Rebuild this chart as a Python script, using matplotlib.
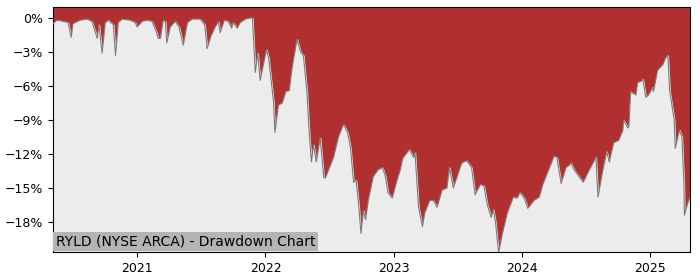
import numpy as np
import pandas as pd
import matplotlib
matplotlib.use('Agg')
import matplotlib.pyplot as plt
import matplotlib.dates as mdates
from matplotlib.ticker import FuncFormatter

# drawdown values (%)
dates = [
    '2020-05-06', '2020-05-17', '2020-06-04', '2020-06-18', '2020-06-27', '2020-07-02',
    '2020-07-22', '2020-08-11', '2020-08-25', '2020-09-09', '2020-09-14', '2020-09-23',
    '2020-10-02', '2020-10-11', '2020-10-25', '2020-10-31', '2020-11-08', '2020-11-19',
    '2020-12-12', '2020-12-26', '2021-01-01', '2021-01-15', '2021-01-29', '2021-02-12',
    '2021-02-24', '2021-03-02', '2021-03-08', '2021-03-16', '2021-03-22', '2021-03-26',
    '2021-04-05', '2021-04-19', '2021-04-30', '2021-05-12', '2021-05-24', '2021-06-07',
    '2021-06-29', '2021-07-12', '2021-07-19', '2021-07-30', '2021-08-11', '2021-08-20',
    '2021-08-25', '2021-09-06', '2021-09-17', '2021-09-27', '2021-10-01', '2021-10-13',
    '2021-10-21', '2021-11-05', '2021-11-19', '2021-11-25', '2021-12-03', '2021-12-10',
    '2021-12-17', '2022-01-04', '2022-01-10', '2022-01-24', '2022-01-28', '2022-02-07',
    '2022-02-18', '2022-02-28', '2022-03-10', '2022-03-18', '2022-04-01', '2022-04-11',
    '2022-04-19', '2022-04-29', '2022-05-06', '2022-05-12', '2022-05-18', '2022-05-26',
    '2022-06-06', '2022-06-16', '2022-06-21', '2022-07-14', '2022-07-28', '2022-08-11',
    '2022-08-23', '2022-08-31', '2022-09-09', '2022-09-16', '2022-09-23', '2022-09-30',
    '2022-10-07', '2022-10-13', '2022-10-21', '2022-11-04', '2022-11-18', '2022-11-30',
    '2022-12-08', '2022-12-16', '2022-12-28', '2023-01-11', '2023-01-20', '2023-01-27',
    '2023-02-15', '2023-02-27', '2023-03-03', '2023-03-13', '2023-03-24', '2023-03-31',
    '2023-04-14', '2023-04-24', '2023-05-05', '2023-05-19', '2023-06-02', '2023-06-09',
    '2023-06-20', '2023-06-30', '2023-07-14', '2023-07-28', '2023-08-11', '2023-08-21',
    '2023-09-05', '2023-09-15', '2023-09-25', '2023-10-06', '2023-10-12', '2023-10-18',
    '2023-10-27', '2023-11-07', '2023-11-21', '2023-12-08', '2023-12-19', '2023-12-27',
    '2024-01-08', '2024-01-18', '2024-02-05', '2024-02-20', '2024-03-01', '2024-03-15',
    '2024-04-02', '2024-04-10', '2024-04-22', '2024-05-06', '2024-05-15', '2024-05-20',
    '2024-05-29', '2024-06-12', '2024-06-24', '2024-07-08', '2024-07-22', '2024-07-30',
    '2024-08-05', '2024-08-19', '2024-08-30', '2024-09-06', '2024-09-19', '2024-10-03',
    '2024-10-15', '2024-10-17', '2024-10-29', '2024-11-01', '2024-11-06', '2024-11-21',
    '2024-11-26', '2024-12-05', '2024-12-11', '2024-12-19', '2024-12-27', '2025-01-08',
    '2025-01-10', '2025-01-22', '2025-02-06', '2025-02-14', '2025-02-20', '2025-02-25',
    '2025-03-10', '2025-03-13', '2025-03-25', '2025-04-01', '2025-04-07', '2025-04-08',
    '2025-04-18', '2025-04-24',
]
drawdown = [
    -0.5, -0.2, -0.3, -0.4, -1.7, -0.5,
    -0.2, -0.1, -0.3, -1.8, -0.6, -3.1,
    -0.4, -0.2, -0.6, -3.3, -0.4, -0.1,
    -0.2, -0.4, -0.8, -0.3, -0.2, -0.3,
    -1.2, -1.8, -1.8, -0.2, -0.3, -2.2,
    -0.8, -0.3, -0.8, -2.4, -0.4, -0.1,
    -0.1, -0.6, -2.7, -1.6, -0.8, -0.3,
    -1.3, -0.2, -0.3, -0.9, -0.4, -0.9,
    -0.4, -0.1, 0.0, 0.0, -4.8, -3.1,
    -5.5, -2.8, -3.5, -7.4, -10.1, -7.7,
    -7.5, -6.5, -6.4, -4.4, -1.9, -3.0,
    -3.3, -6.5, -10.3, -12.7, -11.2, -12.7,
    -10.6, -14.1, -14.1, -12.3, -10.5, -9.4,
    -10.1, -11.4, -14.5, -14.3, -16.3, -19.0,
    -17.0, -17.8, -16.1, -14.0, -13.4, -13.2,
    -13.9, -15.4, -15.9, -14.3, -13.4, -12.4,
    -11.6, -12.3, -11.9, -16.7, -18.4, -17.2,
    -16.1, -16.1, -16.7, -15.2, -15.0, -13.2,
    -15.0, -14.1, -12.8, -12.6, -13.2, -15.6,
    -14.7, -14.8, -16.5, -17.6, -16.9, -18.0,
    -20.7, -19.0, -17.2, -15.8, -15.9, -15.4,
    -15.9, -16.8, -16.1, -15.8, -14.7, -13.6,
    -12.2, -12.3, -14.6, -13.2, -13.0, -12.8,
    -13.4, -14.0, -14.5, -13.6, -12.8, -12.3,
    -15.8, -13.4, -11.8, -12.7, -11.0, -10.8,
    -9.9, -9.0, -9.7, -9.6, -6.5, -6.8,
    -5.7, -5.6, -5.4, -7.0, -6.8, -6.1,
    -6.5, -4.6, -4.1, -3.5, -3.3, -6.4,
    -9.0, -11.5, -9.9, -10.5, -14.9, -17.4,
    -16.3, -15.8,
]
title = 'RYLD (NYSE ARCA) - Drawdown Chart'

x = pd.to_datetime(dates)
y = np.array(drawdown)

fig = plt.figure(figsize=(7, 2.8), dpi=100)
ax = fig.add_axes([0.0757, 0.1, 0.91, 0.875])
ax.set_facecolor('#b03030')

ymin, ymax = -20.65, 0.97
ax.fill_between(x, y, ymin, color='#ececec', zorder=2)
ax.plot(x, y, color='#7a7a7a', lw=0.8, zorder=3)

ax.set_ylim(ymin, ymax)
ax.set_xlim(x[0], x[-1])
ax.set_yticks(np.arange(0, -19, -3))
ax.yaxis.set_major_formatter(FuncFormatter(lambda v, p: f'{v:.0f}%'.replace('-', '\u2212')))
ax.xaxis.set_major_locator(mdates.YearLocator())
ax.xaxis.set_major_formatter(mdates.DateFormatter('%Y'))
ax.tick_params(labelsize=9)

ax.annotate(title, xy=(0, 0), xycoords='axes fraction', xytext=(2, 2.5),
            textcoords='offset points', fontsize=10, ha='left', va='bottom',
            bbox=dict(facecolor='#b4b4b4', edgecolor='none', pad=2), zorder=5)

fig.savefig('out.png', dpi=100)
